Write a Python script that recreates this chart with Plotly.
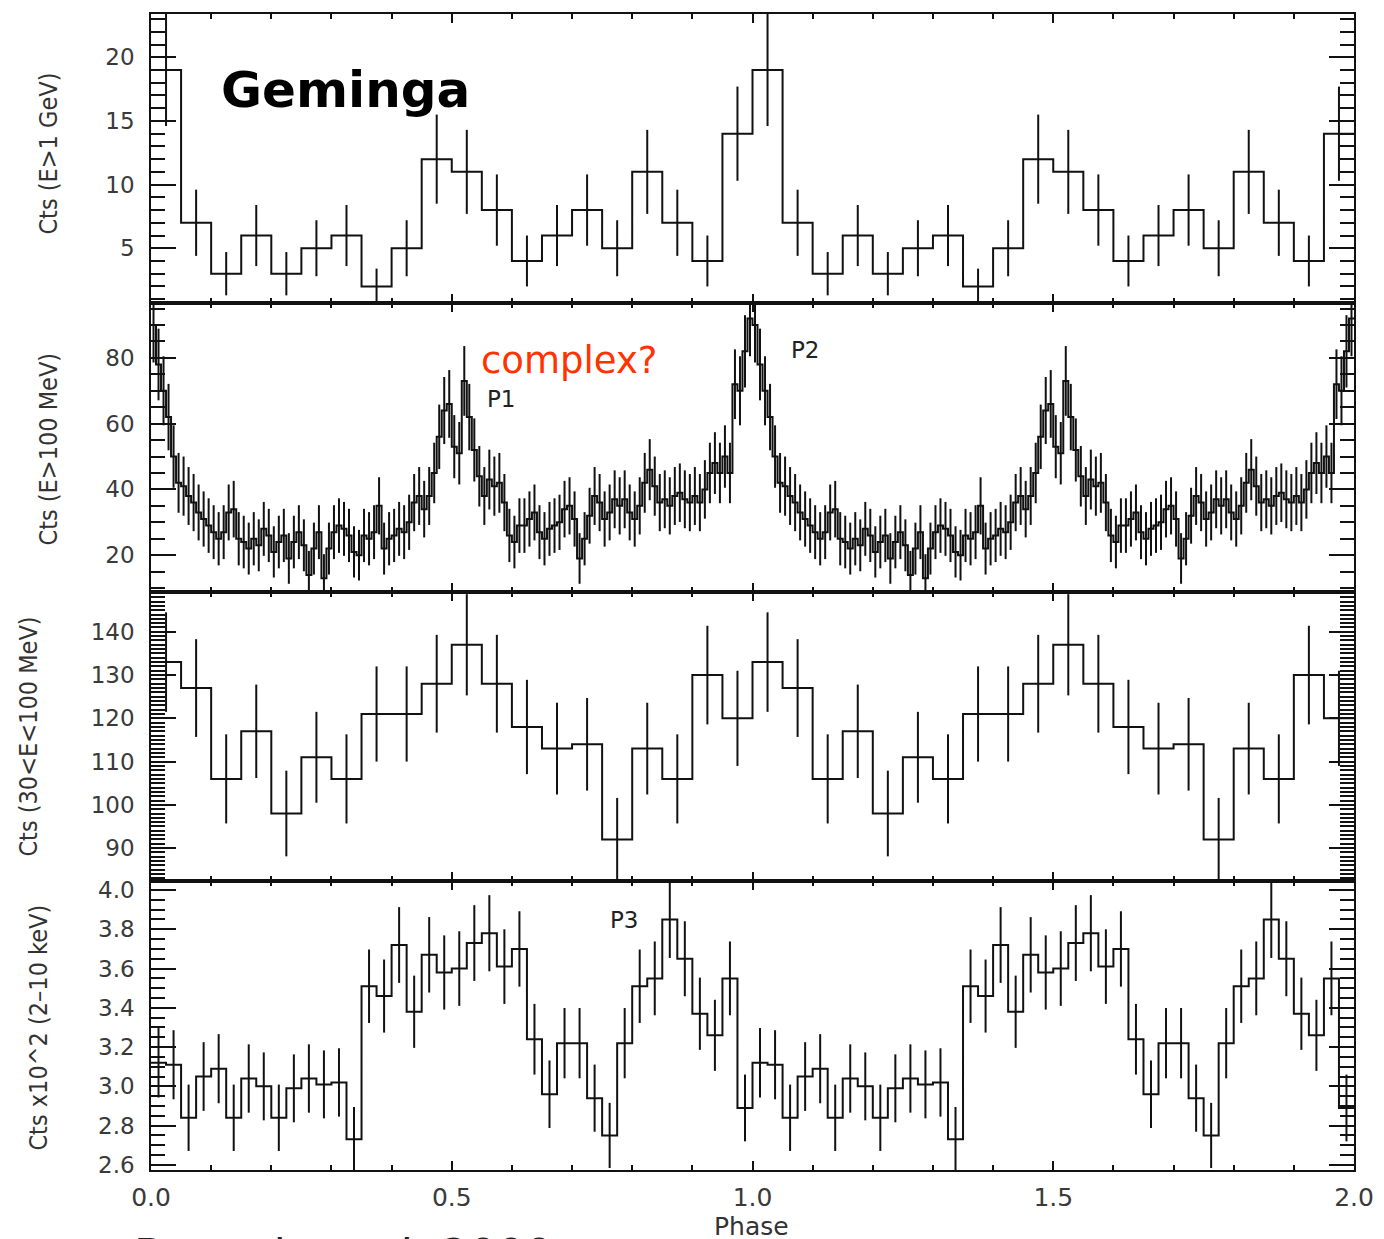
import numpy as np
import plotly.graph_objects as go

# ---------------- data (one rotation; the figure shows two cycles) ----------------
# Panel 1: E > 1 GeV, 20 bins per cycle
gev_counts = [19, 7, 3, 6, 3, 5, 6, 2, 5, 12, 11, 8, 4, 6, 8, 5, 11, 7, 4, 14]
gev_err = [4.4, 2.6, 1.7, 2.4, 1.7, 2.2, 2.4, 1.4, 2.2, 3.5, 3.3, 2.8, 2.0, 2.4, 2.8, 2.2, 3.3, 2.6, 2.0, 3.7]

# Panel 2: E > 100 MeV, 120 bins per cycle
mev100_counts = [90, 78, 70, 62, 50, 42, 41, 38, 36, 33,
                 31, 29, 27, 25, 27, 33, 34, 25, 24, 22,
                 25, 23, 28, 26, 21, 24, 26, 19, 24, 27,
                 23, 14, 22, 27, 13, 22, 27, 29, 28, 26,
                 21, 20, 26, 25, 27, 35, 22, 25, 26, 28,
                 27, 30, 36, 38, 34, 38, 45, 56, 64, 66,
                 53, 51, 73, 62, 52, 44, 38, 43, 41, 42,
                 36, 26, 24, 29, 29, 31, 33, 27, 25, 28,
                 29, 30, 34, 35, 31, 19, 25, 32, 38, 36,
                 31, 33, 37, 35, 37, 33, 31, 35, 42, 46,
                 41, 36, 37, 35, 38, 39, 37, 36, 38, 36,
                 40, 45, 48, 45, 50, 45, 72, 70, 82, 92]
mev100_err = [11.4, 10.9, 10.5, 10.1, 9.5, 9.1, 9.0, 8.8, 8.7, 8.5,
              8.4, 8.3, 8.2, 8.1, 8.2, 8.5, 8.6, 8.1, 8.0, 7.9,
              8.1, 7.9, 8.2, 8.1, 7.8, 8.0, 8.1, 7.7, 8.0, 8.2,
              7.9, 7.3, 7.9, 8.2, 7.3, 7.9, 8.2, 8.3, 8.2, 8.1,
              7.8, 7.7, 8.1, 8.1, 8.2, 8.7, 7.9, 8.1, 8.1, 8.2,
              8.2, 8.4, 8.7, 8.8, 8.6, 8.8, 9.2, 9.8, 10.2, 10.3,
              9.6, 9.5, 10.6, 10.1, 9.6, 9.2, 8.8, 9.1, 9.0, 9.1,
              8.7, 8.1, 8.0, 8.3, 8.3, 8.4, 8.5, 8.2, 8.1, 8.2,
              8.3, 8.4, 8.6, 8.7, 8.4, 7.7, 8.1, 8.5, 8.8, 8.7,
              8.4, 8.5, 8.8, 8.7, 8.8, 8.5, 8.4, 8.7, 9.1, 9.3,
              9.0, 8.7, 8.8, 8.7, 8.8, 8.9, 8.8, 8.7, 8.8, 8.7,
              8.9, 9.2, 9.4, 9.2, 9.5, 9.2, 10.6, 10.5, 11.0, 11.5]

# Panel 3: 30 < E < 100 MeV, 20 bins per cycle
mev30_counts = [133, 127, 106, 117, 98, 111, 106, 121, 121, 128,
                137, 128, 118, 113, 114, 92, 113, 106, 130, 120]
mev30_err = [11.5, 11.3, 10.3, 10.8, 9.9, 10.5, 10.3, 11.0, 11.0, 11.3,
             11.7, 11.3, 10.9, 10.6, 10.7, 9.6, 10.6, 10.3, 11.4, 11.0]

# Panel 4: 2-10 keV (x10^2 counts), 40 bins per cycle
kev_counts = [3.12, 3.11, 2.84, 3.05, 3.09, 2.84, 3.04, 3.00, 2.84, 2.99,
              3.04, 3.01, 3.02, 2.73, 3.51, 3.46, 3.72, 3.38, 3.67, 3.58,
              3.60, 3.73, 3.78, 3.61, 3.70, 3.24, 2.96, 3.22, 3.22, 2.94,
              2.75, 3.22, 3.51, 3.55, 3.85, 3.65, 3.37, 3.26, 3.55, 2.89]
kev_err = [0.177, 0.176, 0.169, 0.175, 0.176, 0.169, 0.174, 0.173, 0.169, 0.173,
           0.174, 0.173, 0.174, 0.165, 0.187, 0.186, 0.193, 0.184, 0.192, 0.189,
           0.190, 0.193, 0.194, 0.190, 0.192, 0.180, 0.172, 0.179, 0.179, 0.171,
           0.166, 0.179, 0.187, 0.188, 0.196, 0.191, 0.184, 0.181, 0.188, 0.170]

y_titles = ["Cts (E>1 GeV)", "Cts (E>100 MeV)", "Cts (30<E<100 MeV)", "Cts x10^2 (2\u201310 keV)"]
x_ticks = [0.0, 0.5, 1.0, 1.5, 2.0]
x_ticklabels = ["0.0", "0.5", "1.0", "1.5", "2.0"]

# ---------------- figure ----------------
W, H = 1384, 1239
L, R, T, B = 151, 29, 10, 69
PH = H - T - B

panels = [
    dict(c=gev_counts, e=gev_err, rng=[0.7, 23.4], tickvals=[5, 10, 15, 20], minor=1, fmt="d"),
    dict(c=mev100_counts, e=mev100_err, rng=[8.8, 96.7], tickvals=[20, 40, 60, 80], minor=5, fmt="d"),
    dict(c=mev30_counts, e=mev30_err, rng=[82.4, 149.2], tickvals=[90, 100, 110, 120, 130, 140], minor=1, fmt="d"),
    dict(c=kev_counts, e=kev_err, rng=[2.574, 4.046], tickvals=[2.6, 2.8, 3.0, 3.2, 3.4, 3.6, 3.8, 4.0], minor=0.05, fmt=".1f"),
]

fig = go.Figure()
FONT_TICK = "DejaVu Sans"
INK = "#111111"

for k, p in enumerate(panels):
    n = len(p["c"])
    width = 1.0 / n
    vals = list(p["c"]) * 2
    errs = list(p["e"]) * 2
    edges = np.arange(2 * n + 1) * width
    centers = (np.arange(2 * n) + 0.5) * width
    xa = "x" if k == 0 else f"x{k+1}"
    ya = "y" if k == 0 else f"y{k+1}"
    # histogram steps
    fig.add_trace(go.Scatter(
        x=edges, y=vals + [vals[-1]], mode="lines", line=dict(color=INK, width=2, shape="hv"),
        xaxis=xa, yaxis=ya, showlegend=False, hoverinfo="skip"))
    # error bars
    fig.add_trace(go.Scatter(
        x=centers, y=vals, mode="markers", marker=dict(size=1, color=INK, opacity=0),
        error_y=dict(type="data", array=errs, visible=True, color=INK, thickness=2, width=0),
        xaxis=xa, yaxis=ya, showlegend=False, hoverinfo="skip"))

    top_px = T + k * PH / 4
    bot_px = top_px + PH / 4
    dom = [(H - B - bot_px) / PH, (H - B - top_px) / PH]
    dom = [max(0, min(1, d)) for d in dom]

    xkey = "xaxis" if k == 0 else f"xaxis{k+1}"
    ykey = "yaxis" if k == 0 else f"yaxis{k+1}"
    fig.layout[xkey] = dict(
        range=[0, 2], anchor=ya, domain=[0, 1],
        tickvals=x_ticks, ticktext=x_ticklabels, showticklabels=(k == 3),
        ticks="inside", ticklen=9, tickwidth=2, tickcolor=INK,
        minor=dict(dtick=0.1, tick0=0, ticks="inside", ticklen=5, tickwidth=2, tickcolor=INK),
        showline=True, linewidth=1.6, linecolor=INK, mirror="allticks",
        showgrid=False, zeroline=False, ticklabelstandoff=4,
        tickfont=dict(family=FONT_TICK, size=25, color="#3a3a3a"),
        **({} if k == 0 else dict(matches="x")),
    )
    fig.layout[ykey] = dict(
        range=p["rng"], anchor=xa, domain=dom,
        tickvals=p["tickvals"], tickformat=p["fmt"],
        ticks="inside", ticklen=25, tickwidth=2, tickcolor=INK,
        minor=dict(dtick=p["minor"], tick0=0, ticks="inside", ticklen=14, tickwidth=2, tickcolor=INK),
        showline=True, linewidth=1.6, linecolor=INK, mirror="allticks",
        showgrid=False, zeroline=False, ticklabelstandoff=10,
        tickfont=dict(family=FONT_TICK, size=23, color="#3a3a3a"),
    )

def px_x(px):
    return (px - L) / (W - L - R)

def px_y(py):
    return (H - B - py) / PH

def label(text, xp, yp, size, color, family=FONT_TICK, angle=0):
    return dict(text=text, xref="paper", yref="paper", x=px_x(xp), y=px_y(yp),
                textangle=angle, showarrow=False, xanchor="center", yanchor="middle",
                font=dict(family=family, size=size, color=color))

annotations = []
title_pos = [(48, 150), (48, 447), (28, 735), (38, 1027)]
for t, (xp, yp) in zip(y_titles, title_pos):
    annotations.append(label(t, xp, yp, 25, "#333333",
                             family="Liberation Sans Narrow, DejaVu Sans Condensed, DejaVu Sans", angle=-90))

annotations += [
    label("<b>Geminga</b>", 346, 86, 50, "black"),
    label("complex?", 569, 358, 37, "#ff3300"),
    label("P1", 502, 396, 23, "#222222"),
    label("P2", 806, 347, 23, "#222222"),
    label("P3", 625, 919, 23, "#222222"),
    label("Phase", 752, 1227, 25, "#333333"),
    label("Bertsch et al. 2000", 344, 1256, 44, "#222222"),
]

fig.update_layout(
    width=W, height=H, margin=dict(l=L, r=R, t=T, b=B),
    paper_bgcolor="white", plot_bgcolor="white",
    annotations=annotations, showlegend=False,
)

fig.write_html("out.html")
